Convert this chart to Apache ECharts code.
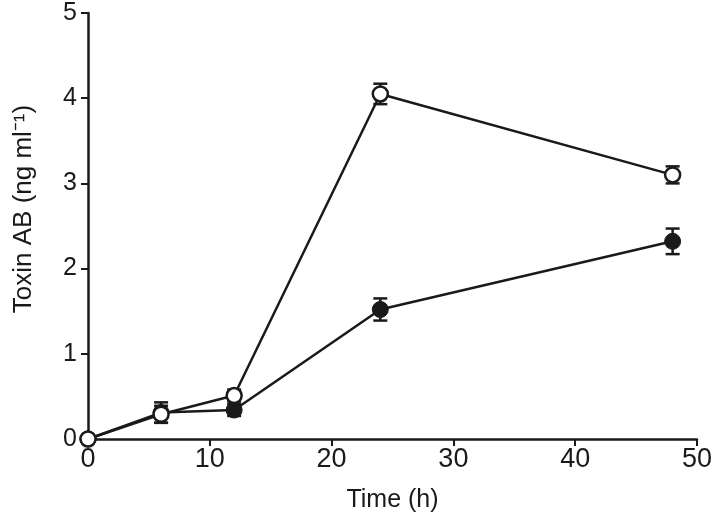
<!DOCTYPE html>
<html><head><meta charset="utf-8">
<script src="https://cdn.jsdelivr.net/npm/echarts@6/dist/echarts.min.js"></script>
<style>html,body{margin:0;padding:0;background:#fff}#c{width:715px;height:518px}</style>
</head><body><div id="c"></div>
<script>
var times = [0, 6, 12, 24, 48];
var openMean = [0, 0.29, 0.51, 4.05, 3.10];
var openErr = [0, 0.10, 0.07, 0.12, 0.10];
var filledMean = [0, 0.31, 0.34, 1.52, 2.32];
var filledErr = [0, 0.12, 0.07, 0.13, 0.15];
var xTicks = [0, 10, 20, 30, 40, 50];
var yTicks = [0, 1, 2, 3, 4, 5];

var FONT = '"Liberation Sans", Arial, Helvetica, sans-serif';
function pts(m){ return times.map(function(t,i){ return [t, m[i]]; }); }
function errData(m,e){ return times.map(function(t,i){ return [t, m[i]-e[i], m[i]+e[i]]; }); }
function errRender(params, api){
  var lo = api.value(1), hi = api.value(2);
  if (hi - lo <= 0) return null;
  var p1 = api.coord([api.value(0), lo]);
  var p2 = api.coord([api.value(0), hi]);
  var w = 7;
  var st = {stroke:'#1a1a1a', lineWidth:2.5};
  return {type:'group', children:[
    {type:'line', shape:{x1:p1[0],y1:p1[1],x2:p2[0],y2:p2[1]}, style:st},
    {type:'line', shape:{x1:p1[0]-w,y1:p1[1],x2:p1[0]+w,y2:p1[1]}, style:st},
    {type:'line', shape:{x1:p2[0]-w,y1:p2[1],x2:p2[0]+w,y2:p2[1]}, style:st}
  ]};
}
var chart = echarts.init(document.getElementById('c'), null, {renderer:'canvas'});
chart.setOption({
  animation:false,
  backgroundColor:'#fff',
  grid:{left:88, right:18, top:13, bottom:77, containLabel:false},
  xAxis:{type:'value', min:0, max:50, interval:10,
    name:'Time (h)', nameLocation:'middle', nameGap:49,
    nameTextStyle:{fontFamily:FONT, fontSize:25, color:'#1a1a1a'},
    axisLine:{show:true, onZero:false, lineStyle:{color:'#1a1a1a', width:2.5}},
    axisTick:{show:true, inside:false, length:7, lineStyle:{color:'#1a1a1a', width:2}},
    axisLabel:{fontFamily:FONT, fontSize:27, color:'#1a1a1a', margin:7,
      formatter:function(v){ return xTicks.indexOf(v)>=0 ? String(v) : ''; }},
    splitLine:{show:false}},
  yAxis:{type:'value', min:0, max:5, interval:1,
    axisLine:{show:true, onZero:false, lineStyle:{color:'#1a1a1a', width:2.5}},
    axisTick:{show:true, inside:false, length:7, lineStyle:{color:'#1a1a1a', width:2}},
    axisLabel:{fontFamily:FONT, fontSize:25, color:'#1a1a1a', margin:11,
      formatter:function(v){ return yTicks.indexOf(v)>=0 ? String(v) : ''; }},
    splitLine:{show:false}},
  graphic:[{type:'text', x:24, y:209, rotation:Math.PI/2,
    style:{text:'Toxin AB (ng ml\u207B\u00B9)', font:'26px ' + FONT, fill:'#1a1a1a',
      textAlign:'center', textVerticalAlign:'middle'}}],
  series:[
    {type:'custom', renderItem:errRender, data:errData(filledMean, filledErr), z:2, encode:{x:0,y:[1,2]}},
    {type:'line', data:pts(filledMean), symbol:'circle', symbolSize:16, z:3,
      lineStyle:{color:'#1a1a1a', width:2.5},
      itemStyle:{color:'#1a1a1a', borderColor:'#1a1a1a', borderWidth:1}},
    {type:'custom', renderItem:errRender, data:errData(openMean, openErr), z:4, encode:{x:0,y:[1,2]}},
    {type:'line', data:pts(openMean), symbol:'circle', symbolSize:15, z:5,
      lineStyle:{color:'#1a1a1a', width:2.5},
      itemStyle:{color:'#fff', borderColor:'#1a1a1a', borderWidth:2.5}}
  ]
});
</script></body></html>
